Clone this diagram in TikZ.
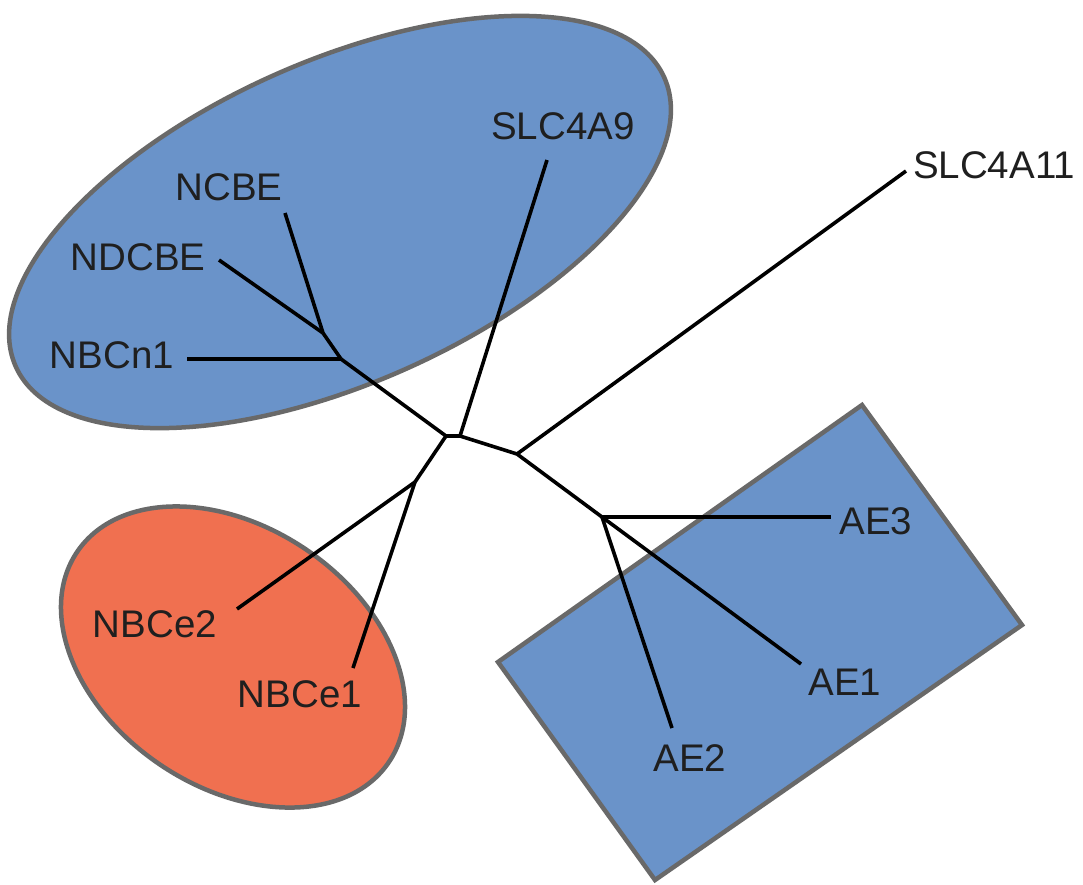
\documentclass[tikz,border=0pt]{standalone}
\usepackage{fontspec}
\setmainfont{Liberation Sans}
\definecolor{grpblue}{RGB}{106,147,201}
\definecolor{grporange}{RGB}{240,112,80}
\definecolor{grpedge}{RGB}{105,105,105}
\begin{document}
\begin{tikzpicture}[x=1pt,y=-1pt,
  group/.style={draw=grpedge,line width=4.5pt},
  branch/.style={draw=black,line width=3.6pt,line join=round},
  lbl/.style={inner sep=0pt,anchor=center,text=black!88,font=\fontsize{38.5}{42}\selectfont}]
\useasboundingbox[fill=white] (0,0) rectangle (1083,884);
% groups
\draw[group,fill=grpblue,shift={(340,222)},rotate=24] (0,0) ellipse [x radius=355pt,y radius=161pt];
\draw[group,fill=grporange,shift={(233,657)},rotate=-34] (0,0) ellipse [x radius=188pt,y radius=130pt];
\draw[group,fill=grpblue,line join=miter] (862,405) -- (1022,625) -- (655,880) -- (498,662) -- cycle;
% tree joints
\coordinate (j0) at (446,436);
\coordinate (j1) at (460,436);
\coordinate (j2) at (517,454);
\coordinate (jae) at (602,517);
\coordinate (jnbc) at (341,359);
\coordinate (jnd) at (323,333);
\coordinate (jnbce) at (415,482);
% leaf ends
\coordinate (eslc9) at (547,160);
\coordinate (eslc11) at (906,171);
\coordinate (encbe) at (285,213);
\coordinate (endcbe) at (219,260);
\coordinate (enbcn) at (187,359);
\coordinate (enbce2) at (237,609);
\coordinate (enbce1) at (353,668);
\coordinate (eae3) at (831,517);
\coordinate (eae1) at (801,664);
\coordinate (eae2) at (672,728);
% branches
\draw[branch] (jnbc) -- (j0) -- (j1) -- (j2) -- (jae);
\draw[branch] (j1) -- (eslc9);
\draw[branch] (j2) -- (eslc11);
\draw[branch] (jnbc) -- (jnd);
\draw[branch] (jnd) -- (encbe);
\draw[branch] (jnd) -- (endcbe);
\draw[branch] (jnbc) -- (enbcn);
\draw[branch] (j0) -- (jnbce);
\draw[branch] (jnbce) -- (enbce2);
\draw[branch] (jnbce) -- (enbce1);
\draw[branch] (jae) -- (eae3);
\draw[branch] (jae) -- (eae1);
\draw[branch] (jae) -- (eae2);
% labels
\node[lbl] (slc9) at (563,126) {SLC4A9};
\node[lbl] (slc11) at (994,165) {SLC4A11};
\node[lbl] (ncbe) at (229,187) {NCBE};
\node[lbl] (ndcbe) at (138,257) {NDCBE};
\node[lbl] (nbcn1) at (112,355) {NBCn1};
\node[lbl] (nbce2) at (155,624) {NBCe2};
\node[lbl] (nbce1) at (300,694) {NBCe1};
\node[lbl] (ae3) at (876,521) {AE3};
\node[lbl] (ae1) at (845,682) {AE1};
\node[lbl] (ae2) at (690,758) {AE2};
\end{tikzpicture}
\end{document}
